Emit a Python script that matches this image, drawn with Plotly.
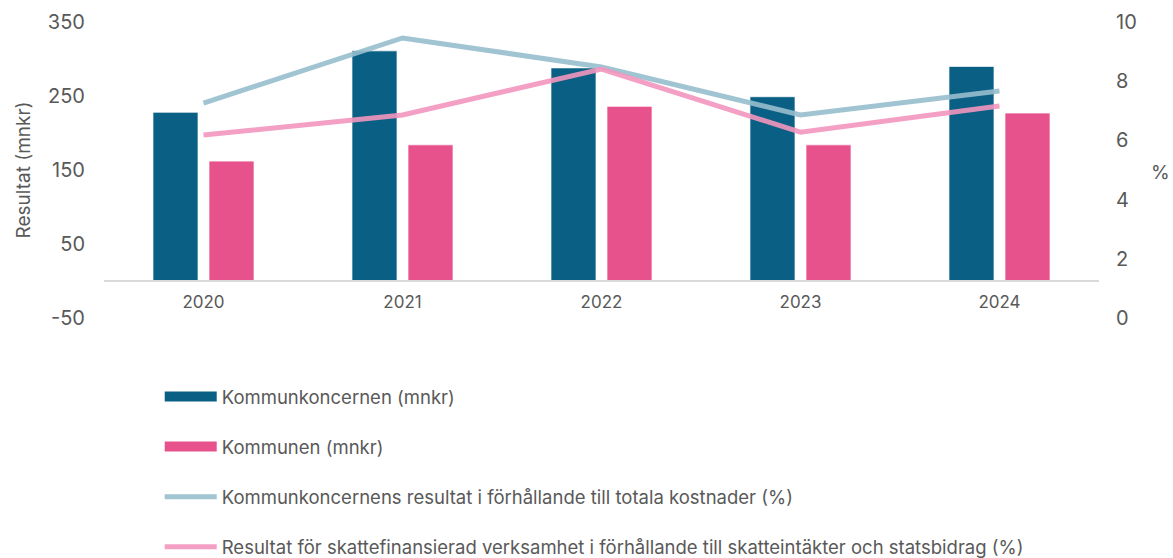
import plotly.graph_objects as go

years = ["2020", "2021", "2022", "2023", "2024"]
koncern_mnkr = [228, 311, 288, 249, 290]
kommun_mnkr = [162, 184, 236, 184, 227]
koncern_pct = [7.26, 9.46, 8.48, 6.86, 7.67]
skatt_pct = [6.18, 6.86, 8.41, 6.28, 7.16]

left_ticks = [-50, 50, 150, 250, 350]
left_ticktext = ["-50", "50", "150", "250", "350"]
right_ticks = [0, 2, 4, 6, 8, 10]

names = [
    "Kommunkoncernen (mnkr)",
    "Kommunen (mnkr)",
    "Kommunkoncernens resultat i förhållande till totala kostnader (%)",
    "Resultat för skattefinansierad verksamhet i förhållande till skatteintäkter och statsbidrag (%)",
]

c_dark = "#0A5F84"
c_pink = "#E8528C"
c_lblue = "rgba(150,190,205,0.9)"
c_lpink = "rgba(242,150,190,0.9)"
txt = "#595959"
font = "Inter"

W, H = 1173, 558

fig = go.Figure()
fig.add_trace(go.Bar(x=years, y=koncern_mnkr, name=names[0], marker=dict(color=c_dark, line=dict(color="rgba(255,255,255,0.7)", width=1)), showlegend=False))
fig.add_trace(go.Bar(x=years, y=kommun_mnkr, name=names[1], marker=dict(color=c_pink, line=dict(color="rgba(255,255,255,0.7)", width=1)), showlegend=False))
fig.add_trace(go.Scatter(x=years, y=koncern_pct, name=names[2], yaxis="y2", mode="lines", line=dict(color=c_lblue, width=5), showlegend=False))
fig.add_trace(go.Scatter(x=years, y=skatt_pct, name=names[3], yaxis="y2", mode="lines", line=dict(color=c_lpink, width=5), showlegend=False))

# legend proxies
for i, (nm, col, w) in enumerate([(names[0], c_dark, 10), (names[1], c_pink, 10), (names[2], c_lblue, 5), (names[3], c_lpink, 5)]):
    fig.add_trace(go.Scatter(x=[None], y=[None], name=nm, mode="lines", line=dict(color=col, width=w), legendgroup=f"g{i}", showlegend=True))

fig.update_layout(
    width=W, height=H,
    margin=dict(l=104, r=74, t=22, b=240, autoexpand=False),
    paper_bgcolor="white", plot_bgcolor="white",
    font=dict(family=font, color=txt, size=14),
    barmode="group", bargap=0.437, bargroupgap=0.196,
    xaxis=dict(anchor="free", position=0.125, showline=True, linecolor="#d9d9d9", linewidth=1.5,
               ticks="", showgrid=False, tickfont=dict(size=17, color=txt), ticklabelstandoff=6, automargin=False),
    yaxis=dict(range=[-50, 350], tickvals=left_ticks, ticktext=left_ticktext, showgrid=False, zeroline=False,
               tickfont=dict(size=20, color=txt), ticklabelstandoff=18, automargin=False,
               title=dict(text="Resultat (mnkr)", font=dict(size=19, color=txt), standoff=12)),
    yaxis2=dict(range=[0, 10], tickvals=right_ticks, overlaying="y", side="right", showgrid=False, zeroline=False,
                tickfont=dict(size=20, color=txt), ticklabelstandoff=16, automargin=False),
    legend=dict(x=0.056, y=1 - 378 / H, xref="paper", yref="container", xanchor="left", yanchor="top",
                orientation="v", tracegroupgap=23, itemwidth=52, font=dict(size=18.5, color=txt),
                bgcolor="rgba(0,0,0,0)"),
    annotations=[dict(text="%", xref="paper", yref="paper", x=(1160 - 104) / 995, y=(318 - 172) / 296,
                      showarrow=False, xanchor="center", yanchor="middle", font=dict(size=19, color=txt))],
)

fig.write_html("out.html", config={"displayModeBar": False},
               post_script="document.body.style.margin='0';document.body.style.overflow='hidden';")
